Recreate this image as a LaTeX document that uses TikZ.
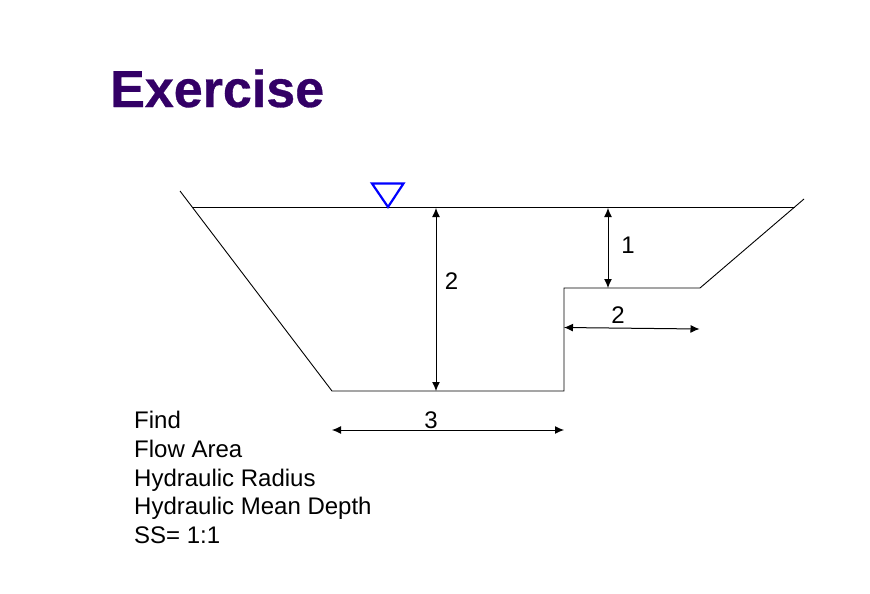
\documentclass[tikz,border=0pt]{standalone}
\usepackage{fontspec}
\setmainfont{Liberation Sans}
\newfontfamily\titlefont[FakeBold=0.6]{Liberation Sans Bold}
\usetikzlibrary{arrows.meta}
\definecolor{titlepurple}{RGB}{51,0,102}
\tikzset{
  x=1pt,y=-1pt,
  channel/.style={draw=black,line width=0.9pt,line join=miter},
  dim/.style={draw=black,line width=1pt,{Latex[length=9pt,width=8pt]}-{Latex[length=9pt,width=8pt]}},
  lab/.style={inner sep=0pt,anchor=center,font=\fontsize{24}{24}\selectfont},
  title/.style={inner sep=0pt,anchor=base west,text=titlepurple,font=\fontsize{52}{52}\titlefont},
  body/.style={inner sep=0pt,anchor=base west,font=\fontsize{24}{24}\selectfont},
}
\begin{document}
\begin{tikzpicture}
\useasboundingbox (0,0) rectangle (870,594);
\node[title] (t) at (110,107) {Exercise};
\coordinate (bl0) at (180,191);
\coordinate (bl1) at (332,391);
\coordinate (br1) at (564,391);
\coordinate (st1) at (564,288);
\coordinate (st2) at (700,288);
\coordinate (tr) at (804,199);
\coordinate (wl) at (192,207.5);
\coordinate (wr) at (795,207.5);
\draw[channel] (bl0) -- (bl1) -- (br1) -- (st1) -- (st2) -- (tr);
\draw[channel] (wl) -- (wr);
\draw[draw=blue,line width=2.2pt,line join=miter] (372,183.5) -- (403.5,183.5) -- (388,207) -- cycle;
\coordinate (a1) at (436,208); \coordinate (a2) at (436,391);
\coordinate (b1) at (608,208); \coordinate (b2) at (608,288);
\coordinate (c1) at (564,327.5); \coordinate (c2) at (699.5,329);
\coordinate (d1) at (332,430); \coordinate (d2) at (564,430);
\draw[dim] (a1) -- (a2);
\draw[dim] (b1) -- (b2);
\draw[dim] (c1) -- (c2);
\draw[dim] (d1) -- (d2);
\node[lab] (l2) at (451.5,281.5) {2};
\node[lab] (l1) at (628,245.5) {1};
\node[lab] (l2b) at (618,315.5) {2};
\node[lab] (l3) at (431,420.5) {3};
\node[body] (f1) at (134,428) {Find};
\node[body] (f2) at (134,457) {Flow Area};
\node[body] (f3) at (134,486) {Hydraulic Radius};
\node[body] (f4) at (134,514.5) {Hydraulic Mean Depth};
\node[body] (f5) at (134,543) {SS= 1:1};
\end{tikzpicture}
\end{document}
